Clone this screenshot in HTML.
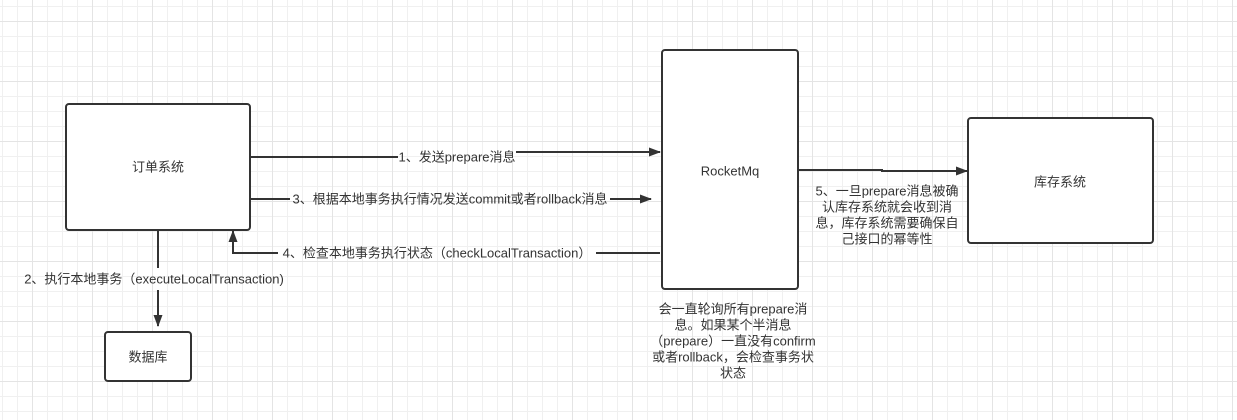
<!DOCTYPE html>
<html><head><meta charset="utf-8"><style>
body{margin:0;width:1237px;height:420px;overflow:hidden;background:#fff;
background-image:
linear-gradient(to right,#e4e4e4 1px,transparent 1px),
linear-gradient(to bottom,#e4e4e4 1px,transparent 1px),
linear-gradient(to right,#f0f0f0 1px,transparent 1px),
linear-gradient(to bottom,#f0f0f0 1px,transparent 1px);
background-size:60px 60px,60px 60px,15px 15px,15px 15px;
background-position:32px 21px,32px 21px,2px 6px,2px 6px;
font-family:"Liberation Sans","Noto Sans CJK SC",sans-serif;}
</style></head><body>
<svg width="1237" height="420" style="position:absolute;left:0;top:0" font-family="Liberation Sans, Noto Sans CJK SC, sans-serif" font-size="13" fill="#333">
<defs><marker id="a" markerWidth="12" markerHeight="9" refX="11" refY="4.5" orient="auto" markerUnits="userSpaceOnUse"><path d="M0,0 L12,4.5 L0,9z" fill="#333"/></marker></defs>
<g fill="#fff" stroke="#333" stroke-width="2">
<rect x="66" y="104" width="184" height="126" rx="3"/>
<rect x="105" y="332" width="86" height="49" rx="3"/>
<rect x="662" y="50" width="136" height="239" rx="3"/>
<rect x="968" y="118" width="185" height="125" rx="3"/>
</g>
<g stroke="#333" stroke-width="2" fill="none">
<path d="M250,157 H398" />
<path d="M516,152 H660" marker-end="url(#a)"/>
<path d="M250,199 H290" />
<path d="M610,199 H651" marker-end="url(#a)"/>
<path d="M660,253 H596 M278,253 H233 V231" marker-end="url(#a)"/>
<path d="M158,230 V268 M158,290 V326" marker-end="url(#a)"/>
<path d="M798,170 H882 V171 H967" marker-end="url(#a)"/>
</g>
<g text-anchor="middle" dominant-baseline="central">
<text x="158" y="167">订单系统</text>
<text x="148" y="357">数据库</text>
<text x="730" y="171">RocketMq</text>
<text x="1060" y="182">库存系统</text>
<text x="457" y="157">1、发送prepare消息</text>
<text x="450" y="199">3、根据本地事务执行情况发送commit或者rollback消息</text>
<text x="437" y="253">4、检查本地事务执行状态（checkLocalTransaction）</text>
<text x="154" y="279">2、执行本地事务（executeLocalTransaction)</text>
<text x="887" y="191">5、一旦prepare消息被确</text>
<text x="887" y="207">认库存系统就会收到消</text>
<text x="887" y="223">息，库存系统需要确保自</text>
<text x="887" y="239">己接口的幂等性</text>
<text x="733" y="309">会一直轮询所有prepare消</text>
<text x="733" y="325">息。如果某个半消息</text>
<text x="733" y="341">（prepare）一直没有confirm</text>
<text x="733" y="357">或者rollback，会检查事务状</text>
<text x="733" y="373">状态</text>
</g>
</svg>
</body></html>
